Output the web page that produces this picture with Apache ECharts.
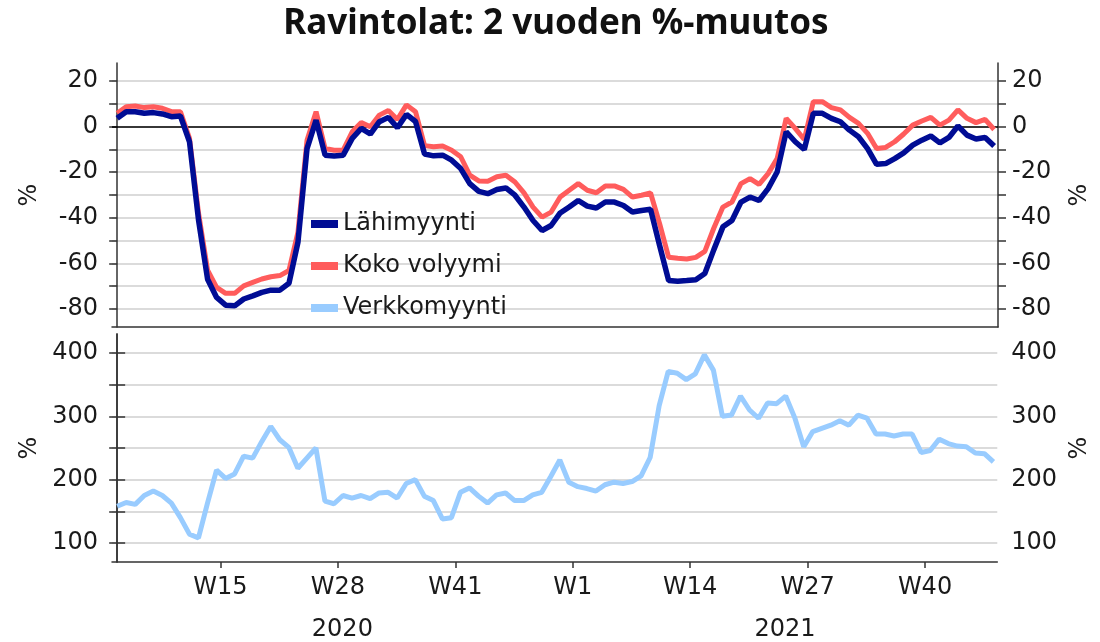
<!DOCTYPE html>
<html>
<head>
<meta charset="utf-8">
<title>Ravintolat: 2 vuoden %-muutos</title>
<script src="https://cdn.jsdelivr.net/npm/echarts@6/dist/echarts.min.js"></script>
<style>
  html, body { margin: 0; padding: 0; background: #fff; }
  #chart { width: 1100px; height: 642px; }
</style>
</head>
<body>
<div id="chart"></div>
<script>
// weekly categories: 2020 W3 ... 2021 W47 (2020 has 53 ISO weeks)
const weeks = []
for (let w = 3; w <= 53; w++) weeks.push('2020-W' + w)
for (let w = 1; w <= 47; w++) weeks.push('2021-W' + w)

const lahimyynti = [
  3.7, 6.6, 6.6, 5.9, 6.2, 5.6, 4.4, 4.7, -6.6, -41,
  -67, -75, -78.4, -78.7, -75.7, -74.3, -72.8, -71.8, -71.8, -68.8,
  -50.7, -9.6, 2.9, -12.5, -12.9, -12.5, -5.1, -0.7, -3.2, 2.2,
  4.1, -0.4, 5.4, 2.3, -12, -12.8, -12.5, -14.7, -18.4, -25,
  -28.4, -29.4, -27.6, -26.9, -30.1, -35.3, -41.2, -45.6, -43.4, -37.9,
  -35.3, -32.4, -34.9, -35.7, -33.1, -33.1, -34.6, -37.5, -36.8, -36.3,
  -52.2, -67.6, -67.9, -67.6, -67.2, -64.5, -54, -44, -41.2, -33.1,
  -30.9, -32.4, -27.2, -19.9, -2.2, -6.6, -10, 5.9, 5.9, 3.7,
  2.2, -1.5, -4.4, -9.6, -16.5, -16.2, -14, -11.5, -8.1, -5.9,
  -4.1, -7.1, -4.7, 0.3, -3.7, -5.4, -4.7, -8.5
]

const kokoVolyymi = [
  5.9, 8.8, 9.1, 8.4, 8.8, 8.1, 6.6, 6.6, -5.1, -38,
  -63, -70.6, -73.2, -73.2, -69.9, -68.4, -66.9, -65.9, -65.4, -63.2,
  -46.3, -5.9, 6.6, -9.6, -10.3, -10.3, -2.2, 1.8, 0, 5.1,
  7.1, 3.2, 9.6, 6.6, -8.3, -8.8, -8.5, -10.3, -13.2, -21.3,
  -23.8, -24, -22, -21.3, -24.3, -29.1, -35.3, -39.7, -37.5, -30.9,
  -27.9, -25, -27.9, -29, -26, -26, -27.5, -30.9, -30.1, -29.1,
  -42.6, -57.4, -57.8, -58.1, -57.4, -54.8, -44.5, -35.3, -33.1, -25,
  -22.8, -25.3, -20.6, -14, 3.7, -0.7, -5.6, 11, 11, 8.4,
  7.4, 4.1, 1.5, -2.9, -9.6, -9.1, -6.6, -3.2, 0.7, 2.5,
  4.1, 0.7, 2.9, 7.4, 3.7, 1.8, 3.2, -1.2
]

const verkkomyynti = [
  158, 164, 161, 175, 182, 175, 163, 140, 114, 108,
  163, 215, 202, 209, 237, 234, 260, 284, 263, 251,
  218, 234, 250, 166, 162, 175, 171, 175, 170, 179,
  180, 171, 194, 200, 174, 167, 138, 140, 180, 187,
  174, 163, 176, 179, 167, 167, 176, 180, 205, 231,
  196, 189, 186, 182, 192, 196, 194, 197, 206, 235,
  317, 371, 368, 358, 367, 397, 373, 300, 302, 332,
  310, 297, 321, 320, 332, 298, 252, 276, 281, 286,
  293, 286, 302, 297, 272, 272, 269, 272, 272, 243,
  246, 264, 257, 253, 252, 242, 241, 228
]

const tickWeeks = ['2020-W15', '2020-W28', '2020-W41', '2021-W1', '2021-W14', '2021-W27', '2021-W40']
const years = ['2020', '2021']
const topTicks = [-80, -70, -60, -50, -40, -30, -20, -10, 0, 10, 20]
const topLabels = [-80, -60, -40, -20, 0, 20]
const bottomTicks = [100, 150, 200, 250, 300, 350, 400]
const bottomLabels = [100, 200, 300, 400]

// points sit late in the week, ticks mark the start of the week
const weekShift = 4 / 7
const xMin = -weekShift
const xMax = weeks.length - weekShift
const tickPos = tickWeeks.map(w => weeks.indexOf(w) - weekShift)
const yearSplit = weeks.indexOf('2021-W1') - weekShift
const yearPos = [(xMin + yearSplit) / 2, (yearSplit + xMax) / 2]

const font = 'DejaVu Sans'
const textColor = '#1a1a1a'
const axisColor = '#333'
const gridColor = '#cfcfcf'

const toPoints = arr => arr.map((v, i) => [i, v])

const chart = echarts.init(document.getElementById('chart'))

const yAxisBase = (gridIndex, position, min, max, ticks, labels, split) => ({
  type: 'value',
  gridIndex,
  position,
  min,
  max,
  name: '%',
  nameLocation: 'middle',
  nameGap: 70,
  nameRotate: 90,
  nameTextStyle: { fontFamily: font, fontSize: 24, color: textColor },
  axisLine: { show: true, lineStyle: { color: axisColor, width: 1.5 } },
  axisTick: { show: true, length: 8, customValues: ticks, lineStyle: { color: axisColor, width: 1.5 } },
  axisLabel: { customValues: labels, margin: 14, fontFamily: font, fontSize: 24, color: textColor },
  splitLine: { show: split, lineStyle: { color: gridColor, width: 1.5 } }
})

chart.setOption({
  animation: false,
  title: {
    text: 'Ravintolat: 2 vuoden %-muutos',
    left: 551,
    textAlign: 'center',
    top: 2,
    textStyle: { fontFamily: 'Noto Sans', fontSize: 35, fontWeight: 'bold', color: '#111' }
  },
  legend: {
    orient: 'vertical',
    left: 306,
    top: 207,
    icon: 'rect',
    itemWidth: 27,
    itemHeight: 8,
    itemGap: 18,
    data: ['Lähimyynti', 'Koko volyymi', 'Verkkomyynti'],
    textStyle: { fontFamily: font, fontSize: 24, color: textColor }
  },
  grid: [
    { left: 112, right: 99, top: 63, height: 264 },
    { left: 112, right: 99, top: 334, height: 228 }
  ],
  xAxis: [
    {
      type: 'value', gridIndex: 0, min: xMin, max: xMax,
      axisLine: { show: true, onZero: false, lineStyle: { color: axisColor, width: 1.5 } },
      axisTick: { show: false },
      axisLabel: { show: false },
      splitLine: { show: false }
    },
    {
      type: 'value', gridIndex: 1, min: xMin, max: xMax,
      axisLine: { show: true, onZero: false, lineStyle: { color: axisColor, width: 1.5 } },
      axisTick: { show: true, length: 6, customValues: tickPos, lineStyle: { color: axisColor, width: 1.5 } },
      axisLabel: {
        customValues: tickPos,
        margin: 14,
        fontFamily: font, fontSize: 24, color: textColor,
        formatter: v => 'W' + weeks[Math.round(v + weekShift)].split('-W')[1]
      },
      splitLine: { show: false }
    },
    {
      type: 'value', gridIndex: 1, min: xMin, max: xMax, position: 'bottom',
      axisLine: { show: false },
      axisTick: { show: false },
      axisLabel: {
        customValues: yearPos,
        margin: 56,
        fontFamily: font, fontSize: 24, color: textColor,
        formatter: v => (v < yearSplit ? years[0] : years[1])
      },
      splitLine: { show: false }
    }
  ],
  yAxis: [
    yAxisBase(0, 'left', -88, 28, topTicks, topLabels, true),
    yAxisBase(0, 'right', -88, 28, topTicks, topLabels, false),
    yAxisBase(1, 'left', 70, 430, bottomTicks, bottomLabels, true),
    yAxisBase(1, 'right', 70, 430, bottomTicks, bottomLabels, false)
  ],
  series: [
    {
      name: 'Lähimyynti',
      type: 'line',
      xAxisIndex: 0,
      yAxisIndex: 0,
      z: 4,
      showSymbol: false,
      data: toPoints(lahimyynti),
      lineStyle: { color: '#000c94', width: 5.5 },
      itemStyle: { color: '#000c94' }
    },
    {
      name: 'Koko volyymi',
      type: 'line',
      xAxisIndex: 0,
      yAxisIndex: 0,
      z: 3,
      showSymbol: false,
      data: toPoints(kokoVolyymi),
      lineStyle: { color: '#ff5c5c', width: 5 },
      itemStyle: { color: '#ff5c5c' },
      markLine: {
        silent: true,
        symbol: 'none',
        z: 1,
        label: { show: false },
        lineStyle: { color: '#000', width: 1.5, type: 'solid' },
        data: [{ yAxis: 0 }]
      }
    },
    {
      name: 'Verkkomyynti',
      type: 'line',
      xAxisIndex: 1,
      yAxisIndex: 2,
      showSymbol: false,
      data: toPoints(verkkomyynti),
      lineStyle: { color: '#99ccff', width: 5 },
      itemStyle: { color: '#99ccff' }
    }
  ]
})

window.addEventListener('resize', () => chart.resize())
</script>
</body>
</html>
